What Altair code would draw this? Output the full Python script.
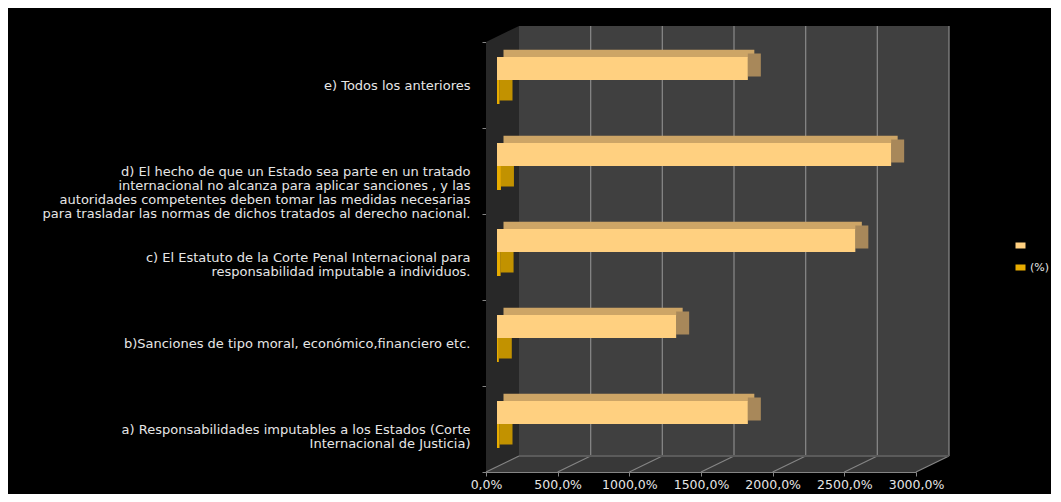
import altair as alt
import pandas as pd

# ---------------- data ----------------
categories = [
    "e)  Todos los anteriores",
    "d) El  hecho de que un Estado sea parte en un tratado|internacional no alcanza para aplicar sanciones , y las|autoridades competentes deben tomar las medidas necesarias|para trasladar las normas de dichos tratados al derecho nacional.",
    "c) El Estatuto de la Corte Penal Internacional para|responsabilidad imputable a individuos.",
    "b)Sanciones de tipo  moral, económico,financiero  etc.",
    "a) Responsabilidades imputables a los Estados (Corte|Internacional de Justicia)",
]
series_names = ["Serie1", "(%)"]
values_main = [1750, 2750, 2500, 1250, 1750]
values_pct = [17.5, 27.5, 25.0, 12.5, 17.5]
x_ticks = [0, 500, 1000, 1500, 2000, 2500, 3000]
x_max = 3000

# ---------------- styling / geometry ----------------
W, H = 430, 430          # front plane of the 3D box
DX, DY = 33, 16          # depth of the 3D box (pixels)
FONT = "DejaVu Sans"
TXT = "#e6e6e6"
LINE = "#858585"

main_front, main_top, main_side = "#FFD080", "#CDA566", "#A8885A"
pct_front, pct_side = "#E8AC00", "#C29200"

df = pd.DataFrame({
    "cat": categories * 2,
    "series": [series_names[0]] * len(categories) + [series_names[1]] * len(categories),
    "value": values_main + values_pct,
})
ticks_df = pd.DataFrame({"t": x_ticks})

depth_units = DX * x_max / W
floor_df = pd.DataFrame({
    "x": [0, depth_units, x_max, x_max + depth_units],
    "top": [H, H - DY, H - DY, H - DY],
    "bot": [H, H, H, H - DY],
})
wall_df = pd.DataFrame({
    "x": [0, depth_units],
    "top": [0, -DY],
    "bot": [H, H - DY],
})

xscale = alt.Scale(domain=[0, x_max], nice=False, zero=True)
yscale = alt.Scale(domain=categories, paddingInner=0, paddingOuter=0)

y_axis = alt.Axis(
    title=None, labelExpr="split(datum.label, '|')", labelAlign="right",
    labelBaseline="middle", labelLineHeight=14, labelLimit=0,
    labelFont=FONT, labelFontSize=13, labelColor=TXT, labelPadding=12,
    tickBand="extent", tickSize=4, tickColor=LINE, domainColor=LINE,
)
x_axis = alt.Axis(
    title=None, values=x_ticks, grid=False, labelOverlap=False,
    labelExpr="join(split(format(datum.value, '.1f'), '.'), ',') + '%'",
    labelFont=FONT, labelFontSize=12.5, labelColor=TXT, labelPadding=2,
    labelFlush=False,
    tickSize=4, tickColor=LINE, domainColor=LINE,
)

def X(field):
    return alt.X(field, scale=xscale, axis=x_axis)

def Y():
    return alt.Y("cat:N", scale=yscale, sort=categories, axis=y_axis)

# ---------------- frame ----------------
back_wall = alt.Chart(ticks_df).mark_rect(
    color="#404040", xOffset=DX, x2Offset=DX
).encode(
    x=alt.datum(0, scale=xscale, axis=x_axis),
    x2=alt.datum(x_max),
    y=alt.value(-DY), y2=alt.value(H - DY),
)

left_wall = alt.Chart(wall_df).mark_area(color="#282828", orient="vertical").encode(
    x=X("x:Q"),
    y=alt.Y("top:Q", scale=None, axis=None),
    y2="bot:Q",
)

floor = alt.Chart(floor_df).mark_area(color="#383838", orient="vertical").encode(
    x=X("x:Q"),
    y=alt.Y("top:Q", scale=None, axis=None),
    y2="bot:Q",
)

back_grid = alt.Chart(ticks_df).transform_filter("datum.t > 0").mark_rule(
    color=LINE, strokeWidth=1.3, xOffset=DX
).encode(
    x=X("t:Q"),
    y=alt.value(-DY), y2=alt.value(H - DY),
)

floor_grid = alt.Chart(ticks_df).mark_rule(
    color=LINE, strokeWidth=1.2, x2Offset=DX
).encode(
    x=X("t:Q"),
    x2="t:Q",
    y=alt.value(H), y2=alt.value(H - DY),
)

back_edge = alt.Chart(ticks_df).mark_rule(
    color="#5c5c5c", strokeWidth=1, xOffset=DX, x2Offset=DX
).encode(
    x=alt.datum(0, scale=xscale, axis=x_axis),
    x2=alt.datum(x_max),
    y=alt.value(H - DY),
)

# ---------------- bars ----------------
main = alt.Chart(df).transform_filter(alt.datum.series == series_names[0])
pct = alt.Chart(df).transform_filter(alt.datum.series == series_names[1])

color_enc = alt.Color(
    "series:N",
    scale=alt.Scale(domain=series_names, range=[main_front, pct_front]),
    legend=alt.Legend(
        orient="none", legendX=529, legendY=198, title=None,
        labelExpr="datum.label == '(%)' ? '(%)' : ''",
        labelColor=TXT, labelFont=FONT, labelFontSize=11,
        symbolType="M-1,-0.6H1V0.6H-1Z", symbolSize=100, symbolStrokeWidth=0,
        rowPadding=10, labelOffset=4, padding=0,
    ),
)

pct_side_l = pct.mark_bar(color=pct_side, size=24, xOffset=11, x2Offset=24, yOffset=3.5).encode(
    x=X("value:Q"), x2="value:Q", y=Y(),
)
pct_front_l = pct.mark_bar(size=24, xOffset=11, x2Offset=11, yOffset=7).encode(
    x=X("value:Q"), y=Y(), color=color_enc,
)
main_top_l = main.mark_bar(color=main_top, size=7.5, xOffset=17.5, x2Offset=17.5, yOffset=-31.5).encode(
    x=X("value:Q"), y=Y(),
)
main_side_l = main.mark_bar(color=main_side, size=23, xOffset=11, x2Offset=24, yOffset=-20).encode(
    x=X("value:Q"), x2="value:Q", y=Y(),
)
main_front_l = main.mark_bar(size=23, xOffset=11, x2Offset=11, yOffset=-16.5).encode(
    x=X("value:Q"), y=Y(), color=color_enc,
)

chart = alt.layer(
    back_wall, left_wall, floor, back_grid, floor_grid, back_edge,
    pct_side_l, pct_front_l, main_top_l, main_side_l, main_front_l,
).properties(
    width=W, height=H,
    autosize=alt.AutoSizeParams(type="none"),
    padding={"left": 478, "top": 34, "right": 135, "bottom": 22},
    background="black",
).configure_view(stroke=None)

chart.save("out.html", embed_options={"renderer": "svg", "actions": False})
